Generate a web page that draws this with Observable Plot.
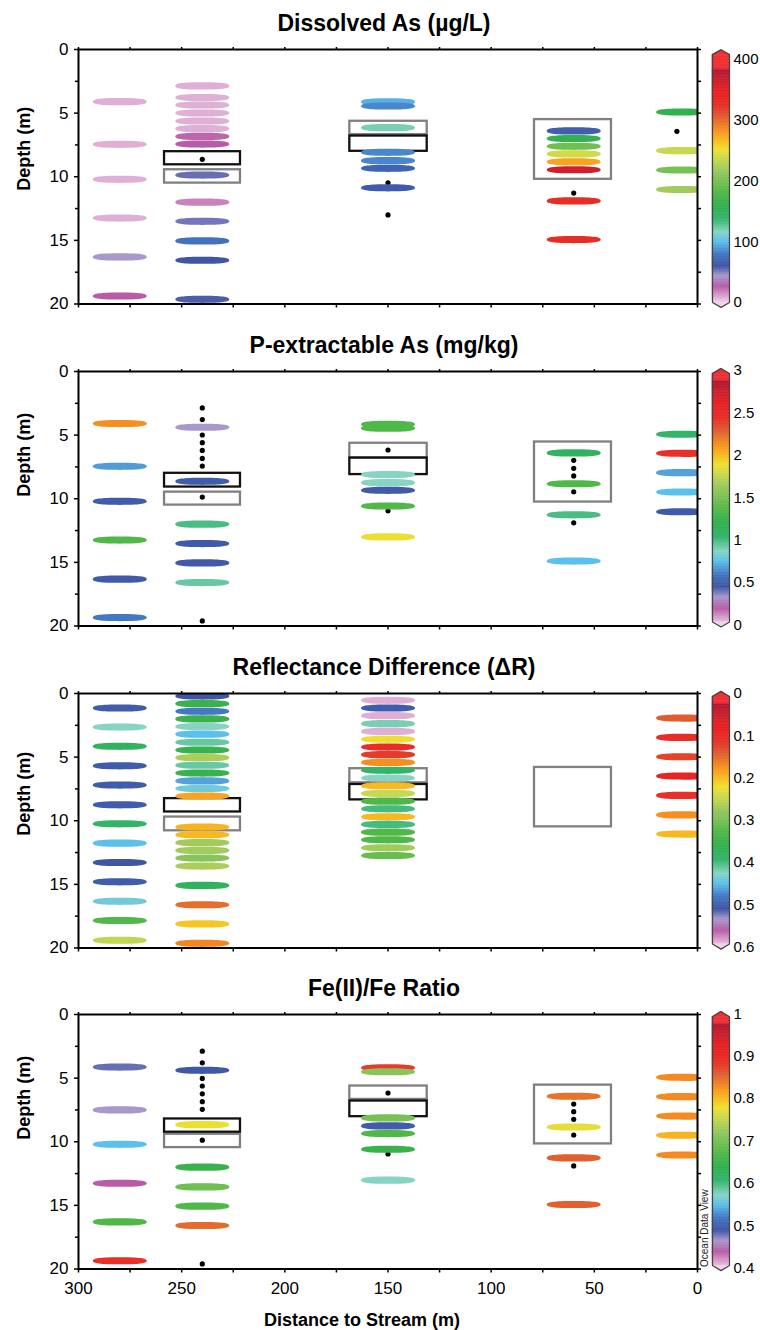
<!DOCTYPE html>
<html><head><meta charset="utf-8">
<script src="https://cdn.jsdelivr.net/npm/d3@7"></script>
<script src="https://cdn.jsdelivr.net/npm/@observablehq/plot@0.6"></script>
<style>
body{margin:0;background:#fff;}
#chart{position:relative;width:760px;height:1330px;overflow:hidden;background:#fff;}
</style></head><body><div id="chart"></div>
<script>
// ---- colour map (ODV-like rainbow), position 0 = pink end, 1 = red end ----
const CMAP_STOPS  = [0, 0.03, 0.065, 0.11, 0.15, 0.2, 0.25, 0.29, 0.345, 0.395, 0.45, 0.54, 0.59, 0.63, 0.67, 0.71, 0.76, 0.81, 0.87, 0.92, 0.955, 0.965, 1];
const CMAP_COLORS = ["#f0d4ea","#d89ccc","#b85ca8","#a898cc","#3f55a5","#4478c4","#5cc0ec","#88d4c4","#34b46c","#30b050","#50b848","#98c860","#c8d850","#f0e030","#f8b820","#f59020","#e06030","#e83028","#e82020","#c82030","#b01830","#f03038","#f03030"];

// ---- axes ----
const X_TICKS = [300,275,250,225,200,175,150,125,100,75,50,25,0];
const X_LABELS = [300,250,200,150,100,50,0];
const DEPTH_TICKS = [0,5,10,15,20];
const DEPTH_MINOR = [2.5,7.5,12.5,17.5];
const DEPTH_RIGHT = [0,2.5,5,7.5,10,12.5,15,17.5,20];

// ---- Panel 1: Dissolved As (µg/L) ----
const AS_DASHES = [
  {x:280, depth:[4.1,7.45,10.2,13.25,16.3,19.37], value:[8,8,8,8,44,26]},
  {x:240, depth:[2.86,3.78,4.36,4.99,5.62,6.22,6.83,7.43,9.87,12.0,13.5,15.04,16.56,19.63], value:[8,8,8,8,8,8,24,26,54,18,52,76,60,58]},
  {x:150, depth:[4.12,4.44,6.14,8.08,8.74,9.34,10.87], value:[96,84,120,84,84,68,64]},
  {x:60,  depth:[6.4,7.0,7.61,8.21,8.82,9.45,11.9,14.94], value:[65,160,196,240,276,364,328,328]},
  {x:7,   depth:[4.91,7.95,9.47,11.0], value:[160,236,200,220]}
];
const AS_DOTS = [{x:240, depth:[8.63]}, {x:150, depth:[10.47,13.0]}, {x:60, depth:[11.28]}, {x:10, depth:[6.43]}];
const AS_BOXES = [
  {kind:"black", x1:258.3, x2:221.5, y1:8.03, y2:9.06}, {kind:"gray", x1:258.3, x2:221.5, y1:9.45, y2:10.5},
  {kind:"gray", x1:168.5, x2:131, y1:5.64, y2:6.69}, {kind:"black", x1:168.5, x2:131, y1:6.8, y2:8.0},
  {kind:"gray", x1:79, x2:41.7, y1:5.51, y2:10.2}
];
const AS_TICKS = [0,100,200,300,400];

// ---- Panel 2: P-extractable As (mg/kg) ----
const PAS_DASHES = [
  {x:280, depth:[4.09,7.45,10.2,13.25,16.32,19.34], value:[2.13,0.675,0.48,1.35,0.465,0.6]},
  {x:240, depth:[4.38,8.63,12.0,13.52,15.04,16.59], value:[0.33,0.48,0.99,0.465,0.465,0.93]},
  {x:150, depth:[4.15,4.45,8.1,8.74,9.34,10.57,13.0], value:[1.35,1.35,0.87,0.87,0.465,1.35,1.875]},
  {x:60,  depth:[6.4,8.82,11.26,14.9], value:[1.1,1.35,0.99,0.75]},
  {x:7,   depth:[4.93,6.43,7.95,9.47,11.02], value:[1.05,2.43,0.69,0.75,0.465]}
];
const PAS_DOTS = [{x:240, depth:[2.86,3.78,4.99,5.59,6.2,6.83,7.43,9.87,19.6]}, {x:150, depth:[6.17,10.95]}, {x:60, depth:[6.98,7.61,8.21,9.45,11.89]}];
const PAS_BOXES = [
  {kind:"black", x1:258.3, x2:221.5, y1:8.0, y2:9.08}, {kind:"gray", x1:258.3, x2:221.5, y1:9.48, y2:10.5},
  {kind:"gray", x1:168.5, x2:131, y1:5.64, y2:6.8}, {kind:"black", x1:168.5, x2:131, y1:6.8, y2:8.1},
  {kind:"gray", x1:79, x2:41.7, y1:5.54, y2:10.26}
];
const PAS_TICKS = [0,0.5,1,1.5,2,2.5,3];

// ---- Panel 3: Reflectance Difference (ΔR) ----
const DR_DASHES = [
  {x:280, depth:[1.14,2.64,4.15,5.68,7.2,8.75,10.24,11.76,13.28,14.8,16.33,17.84,19.39], value:[0.504,0.426,0.378,0.504,0.504,0.504,0.39,0.45,0.51,0.504,0.438,0.33,0.249]},
  {x:240, depth:[0.2,0.8,1.4,2.0,2.6,3.2,3.83,4.44,5.04,5.64,6.25,6.87,7.47,8.06,10.5,11.1,11.72,12.33,12.93,13.56,15.08,16.6,18.11,19.63], value:[0.51,0.354,0.48,0.354,0.426,0.45,0.414,0.354,0.264,0.414,0.354,0.462,0.438,0.186,0.195,0.198,0.27,0.27,0.288,0.264,0.378,0.153,0.207,0.168]},
  {x:150, depth:[0.54,1.14,1.74,2.37,2.98,3.6,4.21,4.81,5.42,6.04,6.65,7.25,7.85,8.46,9.06,9.69,10.29,10.9,11.5,12.13,12.73], value:[0.588,0.504,0.588,0.42,0.588,0.225,0.108,0.12,0.174,0.39,0.426,0.2,0.246,0.33,0.4,0.198,0.4,0.33,0.33,0.27,0.312]},
  {x:7,   depth:[1.93,3.45,4.97,6.49,8.01,9.54,11.05], value:[0.141,0.108,0.126,0.09,0.114,0.174,0.198]}
];
const DR_DOTS = [];
const DR_BOXES = [
  {kind:"black", x1:258.3, x2:221.5, y1:8.26, y2:9.31}, {kind:"gray", x1:258.3, x2:221.5, y1:9.71, y2:10.79},
  {kind:"gray", x1:168.5, x2:131, y1:5.91, y2:7.02}, {kind:"black", x1:168.5, x2:131, y1:7.15, y2:8.36},
  {kind:"gray", x1:79, x2:41.7, y1:5.81, y2:10.48}
];
const DR_TICKS = [0,0.1,0.2,0.3,0.4,0.5,0.6];

// ---- Panel 4: Fe(II)/Fe Ratio ----
const FE_DASHES = [
  {x:280, depth:[4.13,7.5,10.2,13.26,16.3,19.35], value:[0.481,0.466,0.55,0.439,0.67,0.886]},
  {x:240, depth:[4.39,8.66,12.0,13.55,15.06,16.58], value:[0.493,0.775,0.646,0.694,0.67,0.85]},
  {x:150, depth:[4.19,4.5,8.13,8.76,9.36,10.59,13.02], value:[0.88,0.712,0.7,0.496,0.67,0.646,0.574]},
  {x:60,  depth:[6.43,8.84,11.27,14.93], value:[0.844,0.772,0.856,0.856]},
  {x:7,   depth:[4.94,6.46,7.98,9.49,11.04], value:[0.829,0.829,0.829,0.805,0.829]}
];
const FE_DOTS = [{x:240, depth:[2.88,3.8,5.02,5.62,6.23,6.85,7.45,9.88,19.6]}, {x:150, depth:[6.17,10.96]}, {x:60, depth:[7.04,7.64,8.24,9.47,11.9]}];
const FE_BOXES = [
  {kind:"black", x1:258.3, x2:221.5, y1:8.21, y2:9.25}, {kind:"gray", x1:258.3, x2:221.5, y1:9.41, y2:10.46},
  {kind:"gray", x1:168.5, x2:131, y1:5.62, y2:6.67}, {kind:"black", x1:168.5, x2:131, y1:6.8, y2:8.03},
  {kind:"gray", x1:79, x2:41.7, y1:5.55, y2:10.17}
];
const FE_TICKS = [0.4,0.5,0.6,0.7,0.8,0.9,1];

const PANELS = [
  {title:"Dissolved As (µg/L)", dashes:AS_DASHES, dots:AS_DOTS, boxes:AS_BOXES, cLo:0, cHi:400, ticks:AS_TICKS, cbDomain:[0,400], cbRange:[302,59], bar:[0,408], cap:8, top:49, labelDy:14},
  {title:"P-extractable As (mg/kg)", dashes:PAS_DASHES, dots:PAS_DOTS, boxes:PAS_BOXES, cLo:0, cHi:3, ticks:PAS_TICKS, cbDomain:[0,3], cbRange:[624.5,370], bar:[0.036,2.964], cap:0.06, top:371, labelDy:-2},
  {title:"Reflectance Difference (ΔR)", dashes:DR_DASHES, dots:DR_DOTS, boxes:DR_BOXES, cLo:0.6, cHi:0, ticks:DR_TICKS, cbDomain:[0,0.6], cbRange:[692.5,946], bar:[0.593,0.007], cap:0.012, top:692.5, labelDy:15},
  {title:"Fe(II)/Fe Ratio", dashes:FE_DASHES, dots:FE_DOTS, boxes:FE_BOXES, cLo:0.4, cHi:1, ticks:FE_TICKS, cbDomain:[0.4,1], cbRange:[1268.3,1013.5], bar:[0.407,0.993], cap:0.012, top:1014.3, labelDy:-2}
];

const FONT = "'Liberation Sans', Arial, Helvetica, sans-serif";
const dashSymbol = {
  draw(ctx) {
    const a = 27, b = 3.6, k = 0.72;
    ctx.moveTo(a, 0);
    ctx.bezierCurveTo(a, b * k, a * k, b, 0, b);
    ctx.bezierCurveTo(-a * k, b, -a, b * k, -a, 0);
    ctx.bezierCurveTo(-a, -b * k, -a * k, -b, 0, -b);
    ctx.bezierCurveTo(a * k, -b, a, -b * k, a, 0);
    ctx.closePath();
  }
};
const colorScale = {type:"linear", domain:CMAP_STOPS, range:CMAP_COLORS, clamp:true};

const root = document.getElementById("chart");
PANELS.forEach((p, i) => {
  const last = i === PANELS.length - 1;
  const mt = 45, H = 254.5, mb = last ? 62 : 10;
  const svgTop = p.top - mt;
  const norm = v => (v - p.cLo) / (p.cHi - p.cLo);
  const dashRows = p.dashes.flatMap(c => c.depth.map((d, j) => ({x:c.x, depth:d, t:norm(c.value[j])})));
  const dotRows = p.dots.flatMap(c => c.depth.map(d => ({x:c.x, depth:d})));
  const marks = [
    Plot.rect(p.boxes.filter(b => b.kind === "gray"), {x1:"x1", x2:"x2", y1:"y1", y2:"y2", fill:"none", stroke:"#808080", strokeWidth:2.3}),
    Plot.rect(p.boxes.filter(b => b.kind === "black"), {x1:"x1", x2:"x2", y1:"y1", y2:"y2", fill:"none", stroke:"#111", strokeWidth:2.3}),
    Plot.dot(dotRows, {x:"x", y:"depth", r:2.6, fill:"#000", stroke:"none"}),
    Plot.dot(dashRows, {x:"x", y:"depth", fill:"t", symbol:dashSymbol, stroke:"none", clip:true}),
    Plot.frame({stroke:"#000", strokeWidth:2}),
    Plot.axisY({anchor:"left", ticks:DEPTH_TICKS, tickSize:4, tickPadding:6, fontSize:17, label:null, strokeWidth:1.5, tickFormat:d => String(d)}),
    Plot.axisY({anchor:"left", ticks:DEPTH_MINOR, tickSize:3, label:null, strokeWidth:1.5, tickFormat:() => ""}),
    Plot.axisY({anchor:"right", ticks:DEPTH_RIGHT, tickSize:3, label:null, strokeWidth:1.5, tickFormat:() => ""}),
    Plot.axisX({anchor:"top", ticks:X_TICKS, tickSize:3, label:null, strokeWidth:1.5, tickFormat:() => ""}),
    Plot.axisX({anchor:"bottom", ticks:X_TICKS, tickSize:4, tickPadding:9, fontSize:17, label:null, strokeWidth:1.5,
      tickFormat: last ? (d => X_LABELS.includes(d) ? String(d) : "") : () => ""}),
    Plot.text([p.title], {text:d => d, frameAnchor:"top", dx:-4, dy:-19, lineAnchor:"bottom", fontSize:23, fontWeight:"bold"}),
    Plot.text(["Depth (m)"], {text:d => d, frameAnchor:"left", dx:-54, dy:p.labelDy, rotate:-90, lineAnchor:"middle", fontSize:18, fontWeight:"bold"})
  ];
  if (last) {
    marks.push(Plot.text(["Distance to Stream (m)"], {text:d => d, frameAnchor:"bottom", dx:-26, dy:57, lineAnchor:"bottom", fontSize:18, fontWeight:"bold"}));
    marks.push(Plot.text(["Ocean Data View"], {text:d => d, frameAnchor:"bottom-right", dx:7, dy:-2, rotate:-90, textAnchor:"start", lineAnchor:"middle", fontSize:10, fill:"#222"}));
  }
  const svg = Plot.plot({
    width:760, height:mt + H + mb, marginLeft:78, marginRight:63, marginTop:mt, marginBottom:mb,
    style:{fontFamily:FONT, background:"transparent", overflow:"visible", color:"#000"},
    x:{domain:[300,0]}, y:{domain:[0,20], reverse:true},
    color:colorScale,
    marks
  });
  svg.style.position = "absolute"; svg.style.left = "0px"; svg.style.top = svgTop + "px";
  root.appendChild(svg);

  // colour bar
  const n = 160;
  const [pinkEnd, redEnd] = p.bar;
  const dir = Math.sign(redEnd - pinkEnd);
  const cap = p.cap * dir;
  const slices = d3.range(n).map(j => {
    const a = pinkEnd + (redEnd - pinkEnd) * j / n, b = pinkEnd + (redEnd - pinkEnd) * (j + 1) / n;
    return {y1:a, y2:b, t:norm((a + b) / 2)};
  });
  const topCap = [{x:0, y:redEnd}, {x:0.5, y:redEnd + cap}, {x:1, y:redEnd}];
  const botCap = [{x:0, y:pinkEnd}, {x:0.5, y:pinkEnd - cap}, {x:1, y:pinkEnd}];
  const outline = [{x:0, y:pinkEnd}, {x:0, y:redEnd}, {x:0.5, y:redEnd + cap}, {x:1, y:redEnd}, {x:1, y:pinkEnd}, {x:0.5, y:pinkEnd - cap}, {x:0, y:pinkEnd}];
  const cb = Plot.plot({
    width:60, height:mt + H + mb, marginLeft:12, marginRight:31, marginTop:mt, marginBottom:mb,
    style:{fontFamily:FONT, background:"transparent", overflow:"visible", color:"#000"},
    x:{domain:[0,1], axis:null},
    y:{domain:p.cbDomain, range:[p.cbRange[0] - svgTop, p.cbRange[1] - svgTop]},
    color:colorScale,
    marks:[
      Plot.rect(slices, {x1:0, x2:1, y1:"y1", y2:"y2", fill:"t", stroke:"t", strokeWidth:0.6}),
      Plot.areaY(topCap, {x:"x", y1:redEnd, y2:"y", fill:CMAP_COLORS[CMAP_COLORS.length - 1]}),
      Plot.areaY(botCap, {x:"x", y1:pinkEnd, y2:"y", fill:CMAP_COLORS[0]}),
      Plot.line(outline, {x:"x", y:"y", stroke:"#444", strokeWidth:1.2}),
      Plot.axisY({anchor:"right", ticks:p.ticks, tickSize:0, tickPadding:4, fontSize:15, label:null, tickFormat:d => String(d)})
    ]
  });
  cb.style.position = "absolute"; cb.style.left = "700px"; cb.style.top = svgTop + "px";
  root.appendChild(cb);
});
</script></body></html>
